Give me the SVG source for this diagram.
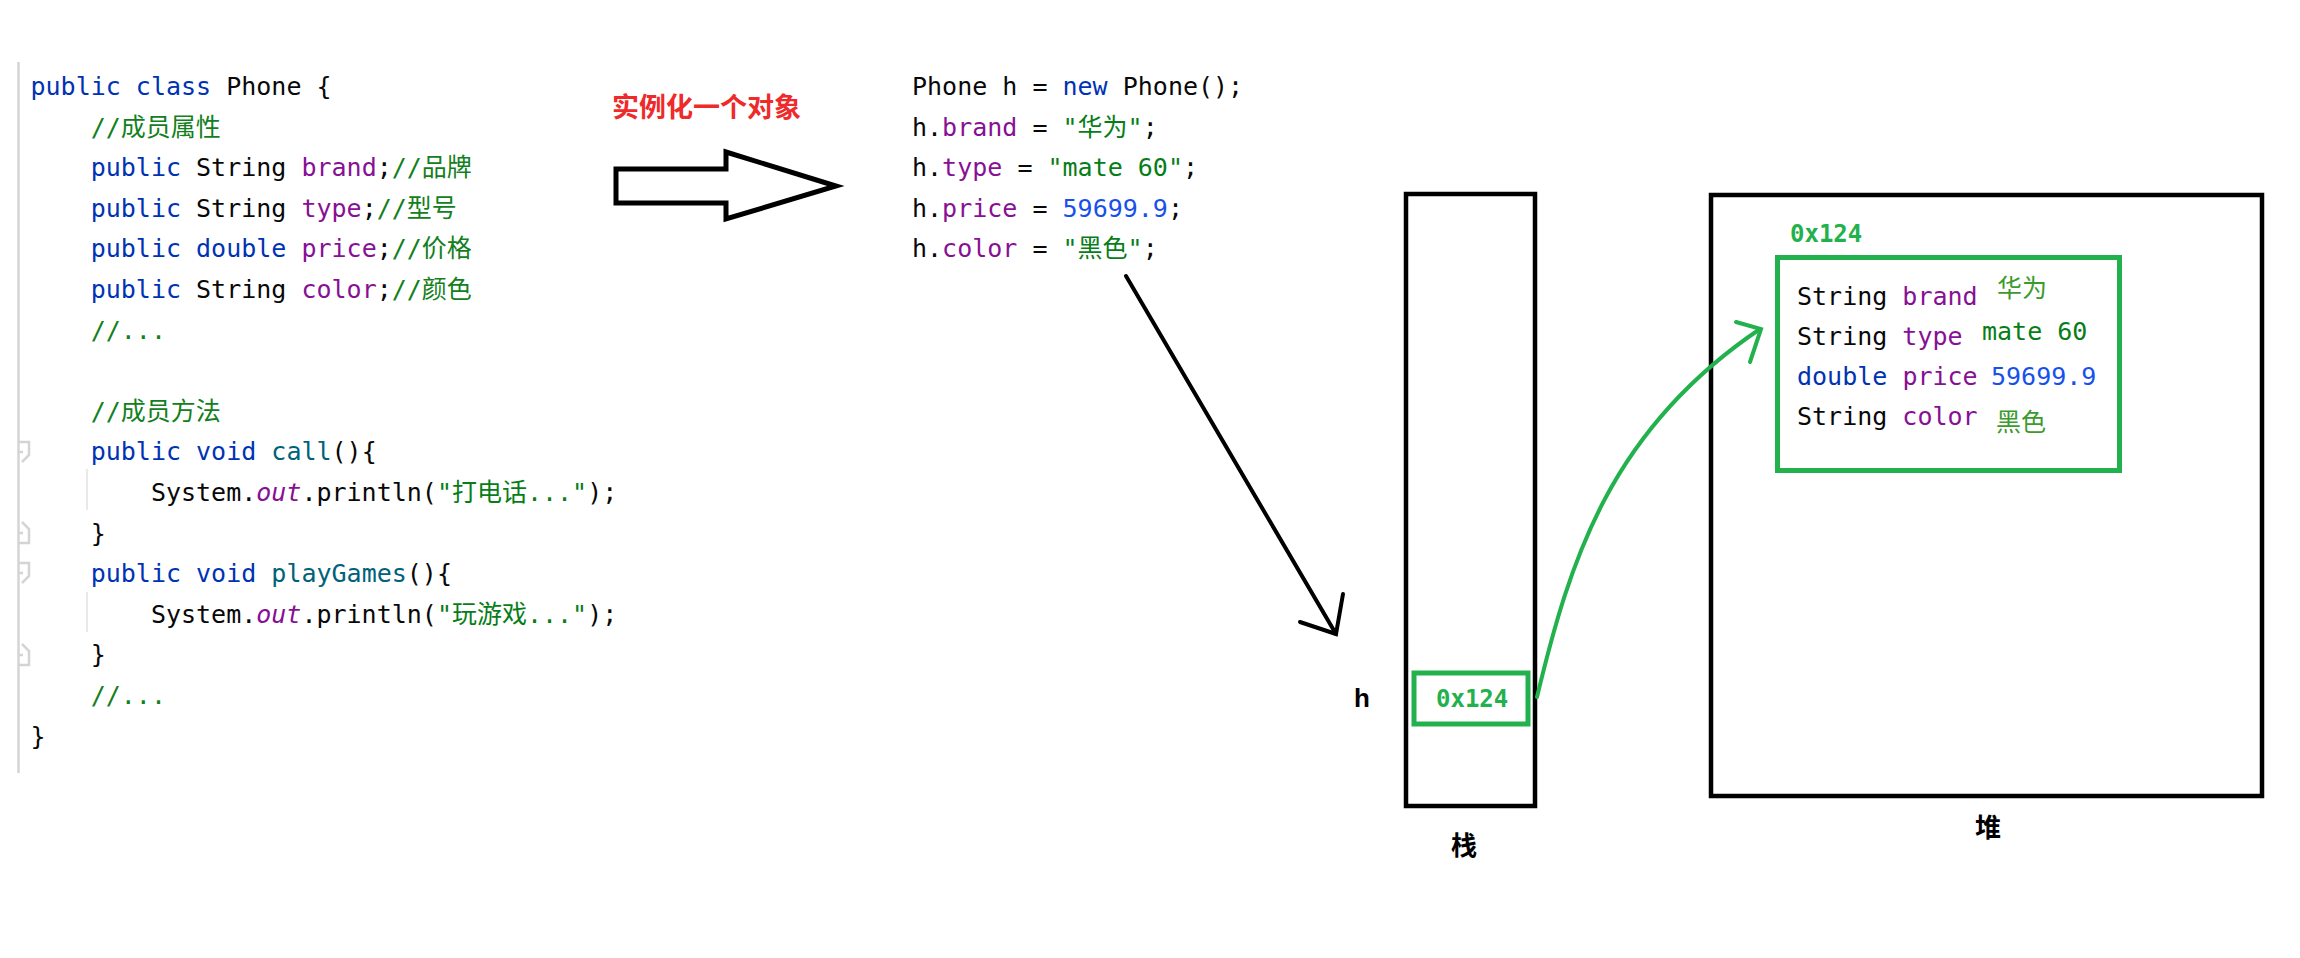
<svg xmlns="http://www.w3.org/2000/svg" width="2300" height="958" viewBox="0 0 2300 958">
<style>
.code{font-family:"DejaVu Sans Mono","Noto Sans CJK SC",monospace;font-size:25px;fill:#080808}
.kw{fill:#0033b3}
.fld{fill:#871094}
.str{fill:#067d17}
.cmt{fill:#12801c}
.num{fill:#1750eb}
.mth{fill:#00627a}
.it{font-style:italic;fill:#871094}
.cjkv{fill:#3c9a2e}
.addr{font-family:"DejaVu Sans Mono",monospace;font-size:24px;font-weight:bold;fill:#22b14c}
.lbl{font-family:"Liberation Sans","Noto Sans CJK SC",sans-serif;font-size:26px;font-weight:bold;fill:#000}
.box{fill:none;stroke:#000;stroke-width:4.5}
.gbox{fill:none;stroke:#22b14c;stroke-width:5}
.gut{fill:none;stroke:#d4d4d4;stroke-width:2.5}
.guide{stroke:#e2e2e2;stroke-width:1.5}
</style>

<g id="class-code">
  <line class="gut" x1="18.5" y1="62" x2="18.5" y2="773"/>
  <path class="gut" d="M18.5,442 H29 V455 L22,462"/>
  <line class="gut" x1="19" y1="452" x2="23" y2="452"/>
  <path class="gut" d="M22,522 L29,529 V543 H18.5"/>
  <line class="gut" x1="19" y1="533" x2="23" y2="533"/>
  <path class="gut" d="M18.5,563 H29 V576 L22,583"/>
  <line class="gut" x1="19" y1="573" x2="23" y2="573"/>
  <path class="gut" d="M22,644 L29,651 V665 H18.5"/>
  <line class="gut" x1="19" y1="655" x2="23" y2="655"/>
  <line class="guide" x1="87" y1="469" x2="87" y2="510"/>
  <line class="guide" x1="87" y1="592" x2="87" y2="632"/>
  <text class="code" x="30.5" y="95"><tspan class="kw">public class</tspan> Phone {</text>
  <text class="code" x="90.7" y="135.6"><tspan class="cmt">//成员属性</tspan></text>
  <text class="code" x="90.7" y="176.2"><tspan class="kw">public</tspan> String <tspan class="fld">brand</tspan>;<tspan class="cmt">//品牌</tspan></text>
  <text class="code" x="90.7" y="216.8"><tspan class="kw">public</tspan> String <tspan class="fld">type</tspan>;<tspan class="cmt">//型号</tspan></text>
  <text class="code" x="90.7" y="257.4"><tspan class="kw">public double</tspan> <tspan class="fld">price</tspan>;<tspan class="cmt">//价格</tspan></text>
  <text class="code" x="90.7" y="298"><tspan class="kw">public</tspan> String <tspan class="fld">color</tspan>;<tspan class="cmt">//颜色</tspan></text>
  <text class="code" x="90.7" y="338.6"><tspan class="cmt">//...</tspan></text>
  <text class="code" x="90.7" y="419.8"><tspan class="cmt">//成员方法</tspan></text>
  <text class="code" x="90.7" y="460.4"><tspan class="kw">public void</tspan> <tspan class="mth">call</tspan>(){</text>
  <text class="code" x="150.9" y="501">System.<tspan class="it">out</tspan>.println(<tspan class="str">"打电话..."</tspan>);</text>
  <text class="code" x="90.7" y="541.6">}</text>
  <text class="code" x="90.7" y="582.2"><tspan class="kw">public void</tspan> <tspan class="mth">playGames</tspan>(){</text>
  <text class="code" x="150.9" y="622.8">System.<tspan class="it">out</tspan>.println(<tspan class="str">"玩游戏..."</tspan>);</text>
  <text class="code" x="90.7" y="663.4">}</text>
  <text class="code" x="90.7" y="704"><tspan class="cmt">//...</tspan></text>
  <text class="code" x="30.5" y="744.6">}</text>
</g>

<g id="instantiate-label">
  <text x="612" y="117" font-family="'Noto Sans CJK SC',sans-serif" font-size="27" font-weight="bold" fill="#ee2a2a">实例化一个对象</text>
</g>

<g id="big-arrow">
  <polygon points="616,169 726,169 726,152 836,186 726,219 726,203 616,203" fill="#fff" stroke="#000" stroke-width="5" stroke-linejoin="miter"/>
</g>

<g id="object-code">
  <text class="code" x="912" y="95">Phone h = <tspan class="kw">new</tspan> Phone();</text>
  <text class="code" x="912" y="135.5">h.<tspan class="fld">brand</tspan> = <tspan class="str">"华为"</tspan>;</text>
  <text class="code" x="912" y="176">h.<tspan class="fld">type</tspan> = <tspan class="str">"mate 60"</tspan>;</text>
  <text class="code" x="912" y="216.5">h.<tspan class="fld">price</tspan> = <tspan class="num">59699.9</tspan>;</text>
  <text class="code" x="912" y="257">h.<tspan class="fld">color</tspan> = <tspan class="str">"黑色"</tspan>;</text>
</g>

<g id="stack">
  <rect class="box" x="1406" y="194" width="129" height="612"/>
  <text class="lbl" x="1464" y="855" text-anchor="middle">栈</text>
</g>

<g id="var-h">
  <text class="lbl" x="1362" y="707" text-anchor="middle">h</text>
  <rect class="gbox" x="1414" y="673" width="114" height="51"/>
  <text class="addr" x="1436" y="707">0x124</text>
</g>

<g id="heap">
  <rect class="box" x="1711" y="195" width="551" height="601"/>
  <text class="lbl" x="1988" y="837" text-anchor="middle">堆</text>
</g>

<g id="phone-object">
  <text class="addr" x="1790" y="242">0x124</text>
  <rect class="gbox" x="1777.5" y="257.5" width="342" height="213"/>
  <text class="code" x="1797" y="305">String <tspan class="fld">brand</tspan></text>
  <text class="code cjkv" x="1997" y="297">华为</text>
  <text class="code" x="1797" y="345">String <tspan class="fld">type</tspan></text>
  <text class="code str" x="1982" y="340">mate 60</text>
  <text class="code" x="1797" y="385"><tspan class="kw">double</tspan> <tspan class="fld">price</tspan></text>
  <text class="code num" x="1991" y="385">59699.9</text>
  <text class="code" x="1797" y="425">String <tspan class="fld">color</tspan></text>
  <text class="code cjkv" x="1996" y="431">黑色</text>
</g>

<g id="connectors">
  <path d="M1126,276 L1336,634" fill="none" stroke="#000" stroke-width="4" stroke-linecap="round"/>
  <path d="M1300,622 L1336,634 L1343,594" fill="none" stroke="#000" stroke-width="4" stroke-linecap="round" stroke-linejoin="miter"/>
  <path d="M1537,697 C1570,560 1610,430 1760,329" fill="none" stroke="#22b14c" stroke-width="4" stroke-linecap="round"/>
  <path d="M1736,322 L1761,329 L1750,362" fill="none" stroke="#22b14c" stroke-width="4" stroke-linecap="round" stroke-linejoin="miter"/>
</g>
</svg>
